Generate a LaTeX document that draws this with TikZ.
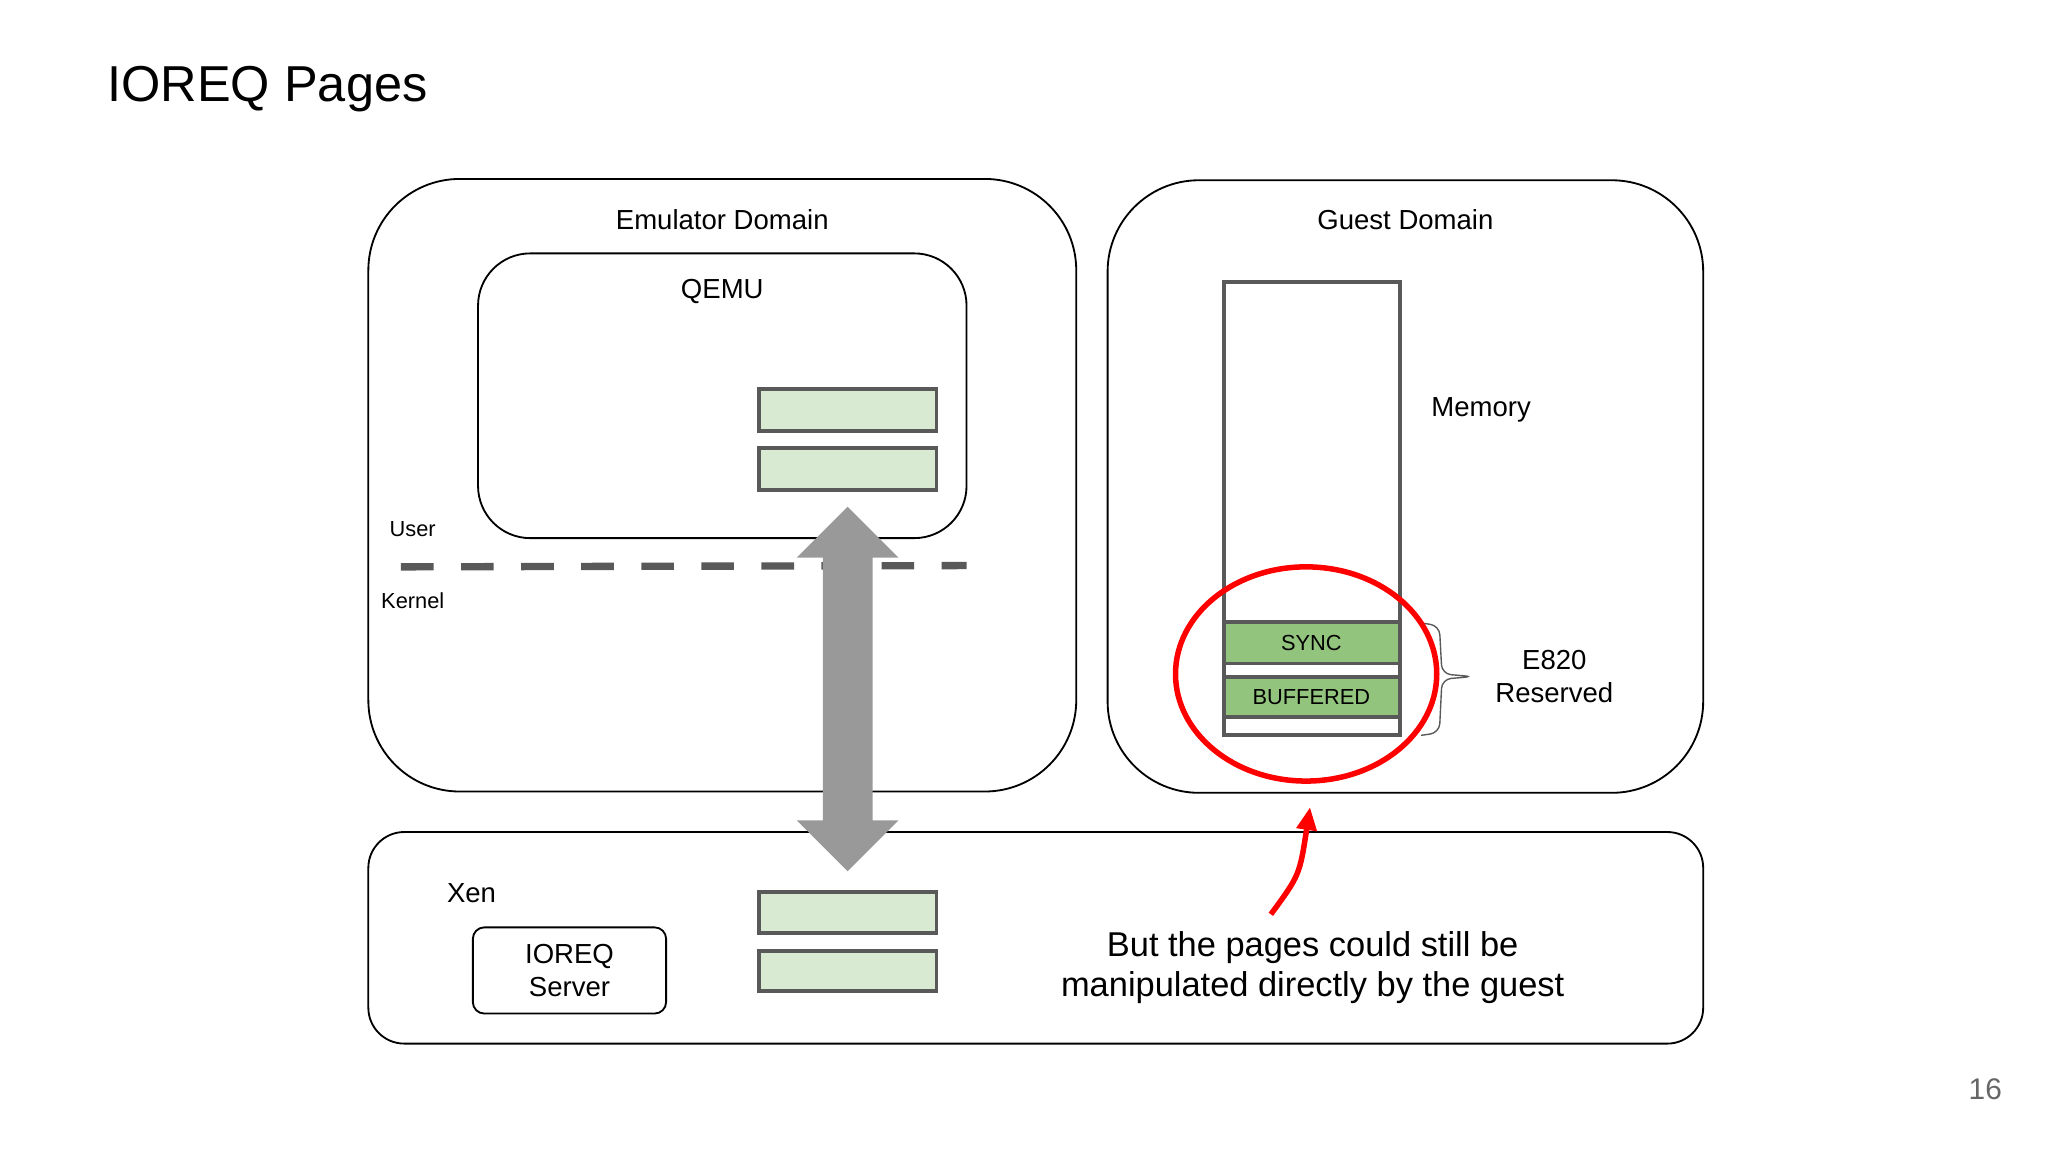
\documentclass[tikz,border=0pt]{standalone}
\usepackage{fontspec}
\setmainfont{Liberation Sans}
\usetikzlibrary{positioning,decorations.pathreplacing,arrows.meta}
\definecolor{pagegreen}{HTML}{D9EAD3}
\definecolor{darkgreen}{HTML}{93C47D}
\definecolor{pagegray}{HTML}{595959}
\begin{document}
\begin{tikzpicture}[x=0.02cm,y=-0.02cm,
  dombox/.style={draw=black, line width=0.8pt, rounded corners=1.4cm},
  page/.style={draw=pagegray, line width=1.7pt, fill=pagegreen},
  lbl/.style={font=\fontsize{12}{14}\selectfont},
  small/.style={font=\fontsize{9.5}{11}\selectfont}]
\useasboundingbox (0,0) rectangle (1568,882);
\node[anchor=west, inner sep=0pt, font=\fontsize{22}{26}\selectfont] (title) at (82,68) {IOREQ Pages};

% domains
\draw[dombox] (282,137) rectangle (824,606);
\draw[dombox] (848,138) rectangle (1304,607);
\draw[dombox, rounded corners=0.55cm] (282,637) rectangle (1304,799);
\draw[dombox, rounded corners=0.8cm] (366,194) rectangle (740,412);
\node[lbl] (emu) at (553,168) {Emulator Domain};
\node[lbl] (guest) at (1076,168) {Guest Domain};
\node[lbl] (qemu) at (553,223) {QEMU};
\node[lbl] (xen) at (361,684) {Xen};

% pages
\draw[page] (581,298) rectangle (717,330);
\draw[page] (581,343) rectangle (717,375);
\draw[page] (581,683) rectangle (717,714);
\draw[page] (581,728) rectangle (717,759);

\node[draw, rounded corners=5pt, line width=0.8pt, minimum width=2.96cm, minimum height=1.32cm,
  align=center, lbl, inner sep=0pt] (server) at (436,743) {IOREQ\\Server};

% user / kernel
\draw[pagegray, line width=3.2pt, dash pattern=on 0.5cm off 0.42cm] (307,434) -- (740,433);
\node[small] (user) at (316,405) {User};
\node[small] (kernel) at (316,460) {Kernel};

% double arrow
\fill[gray!80] (649,388) -- (688,427) -- (668,427) -- (668,628) -- (688,628) -- (649,667)
  -- (610,628) -- (630,628) -- (630,427) -- (610,427) -- cycle;

% memory
\draw[pagegray, line width=1.7pt] (937,216) rectangle (1072,563);
\draw[pagegray, line width=1.7pt, fill=darkgreen] (937,476) rectangle (1072,508);
\draw[pagegray, line width=1.7pt, fill=darkgreen] (937,518) rectangle (1072,549);
\node[small] (sync) at (1004,492) {SYNC};
\node[small] (buf) at (1004,534) {BUFFERED};
\node[lbl] (mem) at (1134,314) {Memory};
\draw[gray!70!black, line width=0.6pt, rounded corners=4pt] (1088,477) -- (1102,479) -- (1104,516)
  -- (1128,518) -- (1104,520) -- (1102,561) -- (1088,563);
\node[lbl, align=center] (e820) at (1190,518) {E820\\Reserved};

% highlight
\draw[red, line width=2.4pt] (1000,516) ellipse [x radius=100, y radius=82];
\coordinate (tail) at (973,700);
\coordinate (tip) at (1003,618);
\draw[red, line width=2.4pt, -{Triangle[length=0.35cm,width=0.3cm]}] (tail) .. controls (995,670) .. (tip);
\node[align=center, font=\fontsize{15}{17.5}\selectfont] (note) at (1005,741)
  {But the pages could still be\\manipulated directly by the guest};

\node[text=gray!80!black, font=\fontsize{13}{15}\selectfont] (num) at (1520,834) {16};
\end{tikzpicture}
\end{document}
